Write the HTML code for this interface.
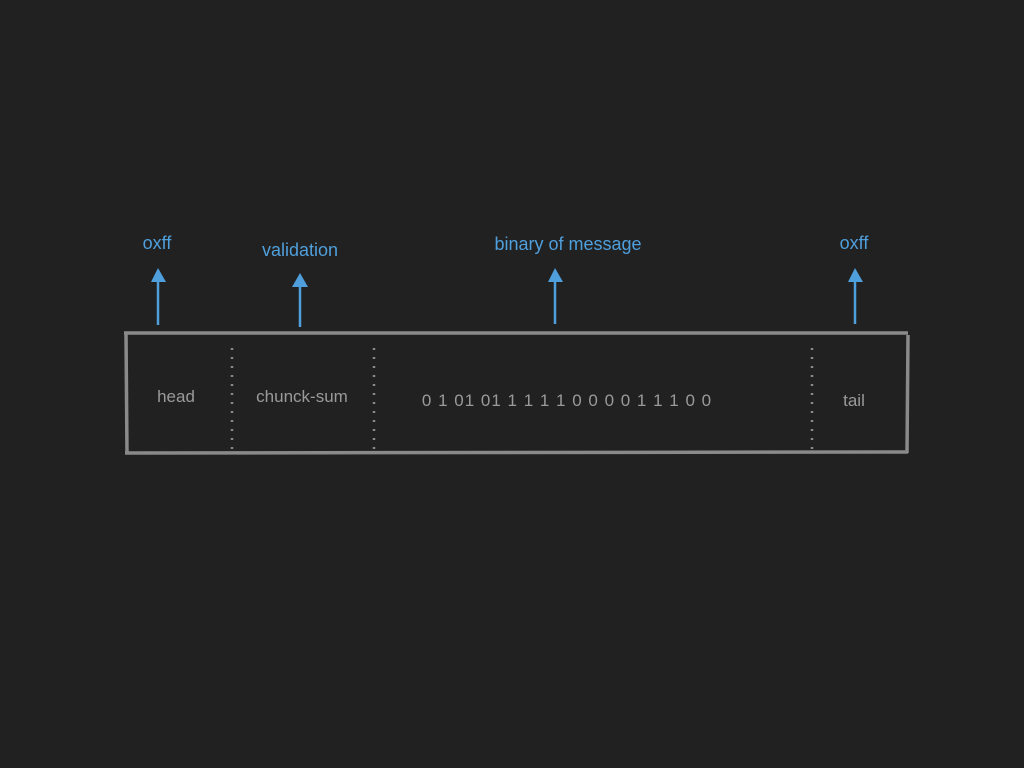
<!DOCTYPE html>
<html><head><style>
html,body{margin:0;padding:0;background:#212121;}
svg{display:block}
text{font-family:"Liberation Sans",sans-serif;}
</style></head><body>
<svg width="1024" height="768" viewBox="0 0 1024 768">
<rect width="1024" height="768" fill="#212121"/>
<g stroke="#8a8a8a" stroke-width="3.5" fill="none">
<line x1="124" y1="333" x2="908" y2="333"/>
<line x1="125" y1="453" x2="908" y2="452"/>
<line x1="126" y1="333" x2="127" y2="454"/>
<line x1="908" y1="335" x2="907" y2="453"/>
</g>
<g stroke="#8a8a8a" stroke-width="2.5" stroke-dasharray="2,7" fill="none">
<line x1="232" y1="348" x2="232" y2="450"/>
<line x1="374" y1="348" x2="374" y2="450"/>
<line x1="812" y1="348" x2="812" y2="450"/>
</g>
<g stroke="#4f9fdc" stroke-width="2.5" fill="#4f9fdc">
<line x1="158" y1="280" x2="158" y2="325"/><polygon points="158,268 151,282 166,282" stroke="none"/>
<line x1="300" y1="285" x2="300" y2="327"/><polygon points="300,273 292,287 308,287" stroke="none"/>
<line x1="555" y1="280" x2="555" y2="324"/><polygon points="555,268 548,282 563,282" stroke="none"/>
<line x1="855" y1="280" x2="855" y2="324"/><polygon points="855,268 848,282 863,282" stroke="none"/>
</g>
<g fill="#4f9fdc" font-size="18" text-anchor="middle">
<text x="157" y="249">oxff</text>
<text x="300" y="256">validation</text>
<text x="568" y="250">binary of message</text>
<text x="854" y="249">oxff</text>
</g>
<g fill="#9a9a9a" font-size="17" text-anchor="middle">
<text x="176" y="402">head</text>
<text x="302" y="402">chunck-sum</text>
<text x="567" y="406" letter-spacing="1.0">0 1 01 01 1 1 1 1 0 0 0 0 1 1 1 0 0</text>
<text x="854" y="406">tail</text>
</g>
</svg>
</body></html>
